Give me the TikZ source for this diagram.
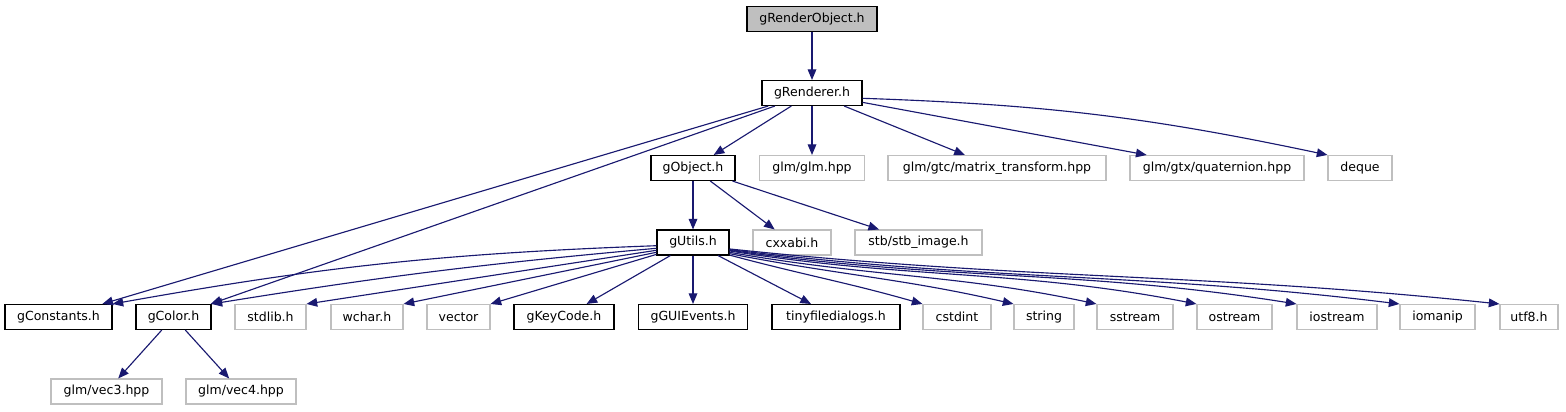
\documentclass[tikz,border=0pt]{standalone}
\usepackage{fontspec}
\setmainfont{DejaVu Sans}
\usepackage{xcolor}
\usepackage{tikz}
\usetikzlibrary{arrows.meta}
\definecolor{edgeblue}{HTML}{191970}
\definecolor{filegrey}{HTML}{BFBFBF}

\begin{document}
\begin{tikzpicture}[
			x=0.75pt, y=-0.75pt,
			font=\fontsize{9.4pt}{11pt}\selectfont,
			file/.style={
				rectangle, draw=black, fill=white, line width=0.8pt,
				inner sep=0pt, minimum height=18.75pt
			},
			ext/.style={file, draw=filegrey},
			root/.style={file, fill=filegrey},
			wd/.style={minimum width=#1*0.75pt},
			arrow/.style={-{Triangle[length=8pt,width=6.5pt]}, draw=edgeblue, line width=0.85pt}
			]
			\useasboundingbox (0,0) rectangle (1566,411);
			% include levels
			\node[root, wd=130] (renderobject) at (812,19) {gRenderObject.h};
			\node[file, wd=100] (renderer) at (812,93) {gRenderer.h};
			\node[file, wd=84] (object) at (693,168) {gObject.h};
			\node[ext, wd=105] (glm) at (812,168) {glm/glm.hpp};
			\node[ext, wd=218] (matrix) at (997,168) {glm/gtc/matrix\_transform.hpp};
			\node[ext, wd=174] (quaternion) at (1217,168) {glm/gtx/quaternion.hpp};
			\node[ext, wd=64] (deque) at (1360,168) {deque};
			\node[file, wd=72] (utils) at (693,242.5) {gUtils.h};
			\node[ext, wd=78] (cxxabi) at (792,242.5) {cxxabi.h};
			\node[ext, wd=127] (stbimage) at (918.5,242.5) {stb/stb\_image.h};
			\node[file, wd=107] (constants) at (58.5,317) {gConstants.h};
			\node[file, wd=75] (color) at (173.5,317) {gColor.h};
			\node[ext, wd=71] (stdlib) at (270.5,317) {stdlib.h};
			\node[ext, wd=72] (wchar) at (367,317) {wchar.h};
			\node[ext, wd=63] (vector) at (458.5,317) {vector};
			\node[file, wd=100] (keycode) at (564,317) {gKeyCode.h};
			\node[file, wd=109] (guievents) at (693,317) {gGUIEvents.h};
			\node[file, wd=128] (tinyfd) at (836,317) {tinyfiledialogs.h};
			\node[ext, wd=68] (cstdint) at (957,317) {cstdint};
			\node[ext, wd=60] (string) at (1044,317) {string};
			\node[ext, wd=76] (sstream) at (1135,317) {sstream};
			\node[ext, wd=75] (ostream) at (1234.5,317) {ostream};
			\node[ext, wd=80] (iostream) at (1337,317) {iostream};
			\node[ext, wd=75] (iomanip) at (1437.5,317) {iomanip};
			\node[ext, wd=58] (utf8) at (1529,317) {utf8.h};
			\node[ext, wd=111] (vec3) at (106.5,391.5) {glm/vec3.hpp};
			\node[ext, wd=110] (vec4) at (241,391.5) {glm/vec4.hpp};
			% gRenderObject.h and gRenderer.h
			\draw[arrow] (renderobject)--(renderer);
			\draw[arrow] (renderer)--(constants);
			\draw[arrow] (renderer)--(color);
			\draw[arrow] (renderer)--(object);
			\draw[arrow] (renderer)--(glm);
			\draw[arrow] (renderer)--(matrix);
			\draw[arrow] (renderer)--(quaternion);
			\draw[arrow] (renderer.-6) to[bend left=5] (deque.north west);
			% gObject.h
			\draw[arrow] (object)--(utils);
			\draw[arrow] (object)--(cxxabi);
			\draw[arrow] (object)--(stbimage);
			% gUtils.h
			\draw[arrow] (utils.185) to[bend right=4] (constants.north east);
			\draw[arrow] (utils.189) to[bend right=2] (color.north east);
			\draw[arrow] (utils.192)--(stdlib.north east);
			\draw[arrow] (utils.195)--(wchar.north east);
			\draw[arrow] (utils.198)--(vector.north east);
			\draw[arrow] (utils)--(keycode);
			\draw[arrow] (utils)--(guievents);
			\draw[arrow] (utils)--(tinyfd);
			\draw[arrow] (utils.-19) to[out=-15, in=164] (cstdint.north west);
			\draw[arrow] (utils.-17) to[out=-11, in=167] (string.north west);
			\draw[arrow] (utils.-15) to[out=-10, in=168] (sstream.north west);
			\draw[arrow] (utils.-13) to[out=-9, in=169] (ostream.north west);
			\draw[arrow] (utils.-12) to[out=-8, in=171] (iostream.north west);
			\draw[arrow] (utils.-11) to[out=-7, in=173] (iomanip.north west);
			\draw[arrow] (utils.-10) to[out=-6, in=174] (utf8.north west);
			% gColor.h
			\draw[arrow] (color)--(vec3);
			\draw[arrow] (color)--(vec4);
		\end{tikzpicture}
\end{document}
